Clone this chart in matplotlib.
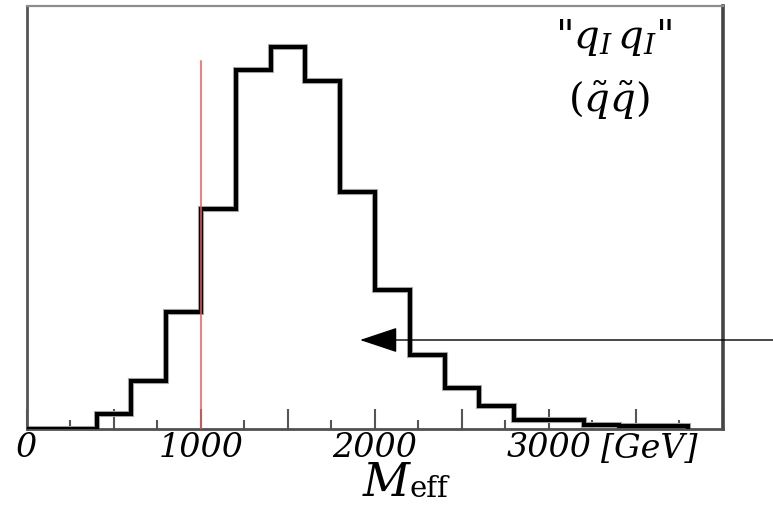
import numpy as np
import matplotlib
matplotlib.use("Agg")
import matplotlib.pyplot as plt
from matplotlib.ticker import FixedLocator

plt.rcParams['font.family'] = 'DejaVu Serif'
plt.rcParams['mathtext.fontset'] = 'dejavuserif'

# effective mass distribution, 200 GeV bins
bin_edges = np.arange(0, 4000, 200)
counts = [0, 0, 15, 48, 117, 220, 359, 382, 348, 237, 139, 74, 41, 23,
          9, 9, 4, 3, 3]
cut_value = 1000          # red cut line [GeV]
cut_height = 368
arrow_tip = (1914, 89)    # arrow pointing at the tail of the distribution
arrow_tail_x = 4287

major_ticks = np.arange(0, 4001, 500)
minor_ticks = np.arange(250, 4000, 500)
tick_labels = ['0', '', '1000', '', '2000', '', '3000', '', '']

fig = plt.figure(figsize=(7.73, 5.06), dpi=100)
ax = fig.add_axes([0.0349, 0.1502, 0.9004, 0.8360])

# histogram outline with a soft grey halo
ax.stairs(counts, bin_edges, baseline=0, color='#b0b0b0', lw=4.4, zorder=2)
ax.stairs(counts, bin_edges, baseline=0, color='black', lw=3.0, zorder=3)

ax.plot([cut_value, cut_value], [0, cut_height], color='#f05a5a', lw=1.1, zorder=4)

ax.annotate('', xy=arrow_tip, xytext=(arrow_tail_x, arrow_tip[1]),
            xycoords='data', textcoords='data', annotation_clip=False,
            arrowprops=dict(arrowstyle='-|>,head_length=1.2,head_width=0.4',
                            mutation_scale=20, color='black', lw=1.0,
                            shrinkA=0, shrinkB=0))

ax.set_xlim(0, 4000)
ax.set_ylim(0, 423)

ax.xaxis.set_major_locator(FixedLocator(major_ticks))
ax.xaxis.set_minor_locator(FixedLocator(minor_ticks))
ax.set_xticklabels(tick_labels)
ax.tick_params(axis='x', which='major', direction='in', length=14.5, width=1.5,
               color='#555555', pad=1.5, labelsize=24)
ax.tick_params(axis='x', which='minor', direction='in', length=6.5, width=1.5,
               color='#555555')
for lab in ax.get_xticklabels():
    lab.set_style('italic')
ax.set_yticks([])

ax.spines['left'].set_color('#555555')
ax.spines['left'].set_linewidth(2.0)
ax.spines['bottom'].set_color('#505050')
ax.spines['bottom'].set_linewidth(2.0)
ax.spines['top'].set_color('#8c8c8c')
ax.spines['top'].set_linewidth(1.6)
ax.spines['right'].set_color('#444444')
ax.spines['right'].set_linewidth(2.6)

# unit label next to the last tick value
ax.text(3300, -0.008, '[GeV]', transform=ax.get_xaxis_transform(),
        ha='left', va='top', fontsize=24, style='italic')

# process label
fig.text(614 / 773, 1 - 48 / 506, r'"$q_I\,q_I$"', ha='center', va='baseline',
         fontsize=29)
fig.text(609 / 773, 1 - 112 / 506, r'$(\tilde{q}\tilde{q})$', ha='center',
         va='baseline', fontsize=29)

# axis title M_eff
fig.text(410 / 773, 1 - 496 / 506, 'M', ha='right', va='baseline',
         fontsize=33, style='italic')
fig.text(410 / 773, 1 - 497 / 506, 'eff', ha='left', va='baseline', fontsize=21)

fig.savefig('out.png', dpi=100, facecolor='white')
